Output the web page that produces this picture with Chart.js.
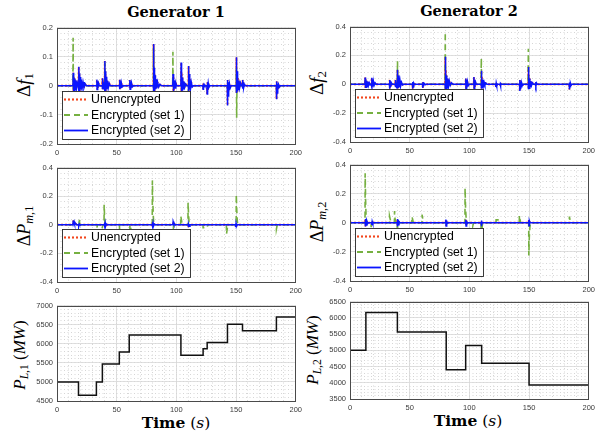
<!DOCTYPE html>
<html>
<head>
<meta charset="utf-8">
<script src="https://cdn.jsdelivr.net/npm/chart.js@4.4.1/dist/chart.umd.min.js"></script>
<style>
  html, body { margin: 0; padding: 0; background: #fff; }
  #fig { position: relative; width: 608px; height: 432px; overflow: hidden; background: #fff; }
  #fig canvas { position: absolute; }
  .lbl { position: absolute; white-space: nowrap; color: #000; line-height: 1;
         font-family: "Liberation Serif", "DejaVu Serif", serif; transform: translate(-50%, -50%); }
  .rot { transform: translate(-50%, -50%) rotate(-90deg); }
  .ttl { font-family: "DejaVu Serif", serif; font-weight: bold; font-size: 14.5px; }
  .xl  { font-family: "DejaVu Serif", serif; font-size: 15.5px; }
  .lbl sub { font-size: 68%; vertical-align: -0.25em; }
</style>
</head>
<body>
<div id="fig">
  <div class="lbl ttl" style="left:176px;top:12px">Generator 1</div>
  <div class="lbl ttl" style="left:469px;top:11px">Generator 2</div>

  <div class="lbl rot" style="left:25px;top:85px;font-size:19px">&Delta;<i>f</i><sub>1</sub></div>
  <div class="lbl rot" style="left:318px;top:83px;font-size:19px">&Delta;<i>f</i><sub>2</sub></div>
  <div class="lbl rot" style="left:25px;top:226px;font-size:18px">&Delta;<i>P</i><sub><i>m</i>,1</sub></div>
  <div class="lbl rot" style="left:318px;top:222px;font-size:18px">&Delta;<i>P</i><sub><i>m</i>,2</sub></div>
  <div class="lbl rot" style="left:21px;top:355px;font-size:17px"><i>P</i><sub><i>L</i>,1</sub> (<i>MW</i>)</div>
  <div class="lbl rot" style="left:314px;top:350px;font-size:17px"><i>P</i><sub><i>L</i>,2</sub> (<i>MW</i>)</div>

  <div class="lbl xl" style="left:176px;top:423px"><b>Time</b> (<i>s</i>)</div>
  <div class="lbl xl" style="left:468px;top:421px"><b>Time</b> (<i>s</i>)</div>
</div>
<script>
// ── axis ticks ────────────────────────────────────────────────────────────
const timeTicks   = [0, 50, 100, 150, 200];
const narrowTicks = [-0.2, -0.1, 0, 0.1, 0.2];
const wideTicks   = [-0.4, -0.2, 0, 0.2, 0.4];
const load1Ticks  = [4500, 5000, 5500, 6000, 6500, 7000];
const load2Ticks  = [3500, 4000, 4500, 5000, 5500, 6000, 6500];
const seriesNames = ['Unencrypted', 'Encrypted (set 1)', 'Encrypted (set 2)'];

// ── Δf1 : [time s, deviation] ─────────────────────────────────────────────
const f1Set2 = [
  [0, 0], [13.4, 0], [13.6, 0.045], [13.8, -0.02], [14.1, 0.032], [14.4, -0.018], [14.8, 0.026], [15.2, -0.013],
  [15.7, 0.019], [16.3, -0.009], [17, 0.011], [17.8, 0],
  [18.2, 0.065], [18.4, -0.022], [18.7, 0.042], [19, -0.02], [19.4, 0.03], [19.8, -0.013], [20.3, 0.021],
  [21, -0.01], [21.8, 0.013], [22.6, -0.006], [23.5, 0.007], [24.5, 0],
  [33.2, 0], [33.4, 0.021], [33.6, -0.013], [33.9, 0.015], [34.3, -0.008], [34.8, 0.009], [35.5, 0],
  [37.8, 0], [38, 0.026], [38.2, -0.012], [38.5, 0.018], [38.9, -0.01], [39.3, 0.012], [39.8, 0],
  [40, 0.085], [40.2, -0.021], [40.5, 0.05], [40.8, -0.018], [41.2, 0.031], [41.6, -0.012], [42.2, 0.018],
  [42.9, -0.008], [43.7, 0.009], [44.6, 0],
  [52.3, 0], [52.5, 0.021], [52.7, -0.012], [53, 0.015], [53.4, -0.008], [53.9, 0.01], [54.6, -0.004], [55.4, 0],
  [60.8, 0], [61, 0.02], [61.2, -0.012], [61.5, 0.015], [61.9, -0.008], [62.4, 0.01], [63.1, -0.004], [64, 0],
  [80.7, 0], [80.9, 0.143], [81.1, -0.021], [81.4, 0.062], [81.7, -0.018], [82.1, 0.036], [82.5, -0.013],
  [83, 0.022], [83.6, -0.009], [84.3, 0.012], [85.2, -0.004], [86.2, 0.005], [87.5, 0],
  [97, 0], [97.2, 0.04], [97.4, -0.02], [97.7, 0.028], [98, -0.015], [98.4, 0.018], [98.9, -0.008], [99.5, 0.01], [100.3, 0],
  [103.8, 0], [104, 0.08], [104.2, -0.02], [104.5, 0.045], [104.8, -0.015], [105.2, 0.028], [105.7, -0.01],
  [106.3, 0.015], [107, -0.005], [107.8, 0.006], [108.8, 0],
  [110, 0], [110.2, 0.068], [110.4, -0.02], [110.7, 0.04], [111, -0.014], [111.4, 0.024], [111.9, -0.008],
  [112.5, 0.012], [113.3, -0.004], [114.3, 0],
  [122.2, 0], [122.4, -0.012], [122.6, 0.008], [122.9, -0.008], [123.3, 0.004], [123.8, 0],
  [125.6, 0], [125.8, -0.028], [126, 0.012], [126.3, -0.014], [126.7, 0.008], [127.2, -0.006], [127.9, 0],
  [142.6, 0], [142.8, -0.068], [143, 0.02], [143.3, -0.035], [143.6, 0.012], [144, -0.018], [144.5, 0.006],
  [145.1, -0.008], [145.9, 0],
  [150.1, 0], [150.3, 0.098], [150.5, -0.025], [150.8, 0.05], [151.1, -0.02], [151.5, 0.03], [151.9, -0.012],
  [152.4, 0.018], [153, -0.007], [153.8, 0.01], [154.7, 0],
  [155.3, 0], [155.5, 0.02], [155.7, -0.01], [156, 0.012], [156.4, -0.006], [157, 0.005], [157.8, 0],
  [183.7, 0], [183.9, -0.046], [184.1, 0.015], [184.4, -0.025], [184.7, 0.008], [185.1, -0.012], [185.6, 0.004],
  [186.2, -0.005], [187, 0],
  [200, 0]
];
const f1Set1 = [
  [0, 0], [13.3, 0], [13.5, 0.165], [13.7, -0.015], [14, 0.03], [14.5, 0],
  [40, 0], [40.1, 0.08], [40.4, 0],
  [80.8, 0], [80.9, 0.13], [81.2, 0],
  [96.9, 0], [97.1, 0.117], [97.3, -0.01], [97.7, 0],
  [109.9, 0], [110.1, -0.076], [110.3, 0.01], [110.7, 0],
  [150.1, 0], [150.3, 0.06], [150.5, -0.11], [150.8, 0.01], [151.2, 0],
  [200, 0]
];
const f1Unenc = f1Set2;   // unencrypted trace sits under set 2 at this scale

// ── Δf2 ───────────────────────────────────────────────────────────────────
const f2Set2 = [
  [0, 0], [12.5, 0], [12.7, 0.047], [12.9, -0.025], [13.2, 0.035], [13.5, -0.02], [13.9, 0.025], [14.3, -0.015],
  [14.8, 0.018], [15.4, -0.01], [16.1, 0.01], [16.9, -0.005], [17.8, 0],
  [18.2, 0.045], [18.4, -0.02], [18.7, 0.03], [19.1, -0.015], [19.6, 0.02], [20.2, -0.008], [21, 0.01], [22, 0],
  [33, 0], [33.2, 0.03], [33.4, -0.03], [33.7, 0.02], [34.1, -0.018], [34.6, 0.01], [35.3, 0],
  [37.8, 0], [38, 0.03], [38.2, -0.02], [38.5, 0.02], [38.9, -0.012], [39.4, 0],
  [39.6, 0], [39.8, 0.1], [40, -0.03], [40.3, 0.06], [40.6, -0.025], [41, 0.04], [41.4, -0.018], [41.9, 0.025],
  [42.5, -0.01], [43.2, 0.013], [44, -0.005], [45, 0],
  [52.3, 0], [52.5, -0.03], [52.7, 0.015], [53, -0.018], [53.4, 0.008], [54, 0],
  [60.8, 0], [61, -0.025], [61.2, 0.015], [61.5, -0.015], [62, 0.006], [62.7, 0],
  [79.6, 0], [79.8, 0.19], [80, -0.04], [80.3, 0.1], [80.6, -0.035], [81, 0.06], [81.4, -0.025], [81.9, 0.04],
  [82.5, -0.015], [83.2, 0.022], [84, -0.008], [85, 0.01], [86.2, 0],
  [96.8, 0], [97, 0.04], [97.2, -0.035], [97.5, 0.03], [97.9, -0.02], [98.4, 0.018], [99, -0.01], [99.7, 0],
  [103.6, 0], [103.8, 0.05], [104, -0.03], [104.3, 0.03], [104.7, -0.018], [105.2, 0.015], [105.8, 0],
  [109.8, 0], [110, 0.093], [110.2, -0.03], [110.5, 0.05], [110.8, -0.022], [111.2, 0.03], [111.7, -0.012],
  [112.3, 0.016], [113, -0.006], [113.9, 0.007], [115, 0],
  [122, 0], [122.2, -0.018], [122.5, 0.008], [122.9, -0.008], [123.5, 0],
  [125.8, 0], [126, -0.012], [126.3, 0.006], [126.8, 0],
  [142, 0], [142.2, -0.047], [142.4, 0.03], [142.7, -0.03], [143, 0.018], [143.4, -0.018], [143.9, 0.008],
  [144.5, -0.008], [145.3, 0],
  [149.2, 0], [149.4, 0.12], [149.6, -0.035], [149.9, 0.065], [150.2, -0.028], [150.6, 0.04], [151, -0.016],
  [151.5, 0.022], [152.1, -0.008], [152.8, 0.01], [153.7, 0],
  [155.4, 0], [155.6, 0.015], [155.8, -0.012], [156.2, 0.008], [156.8, 0],
  [183.6, 0], [183.8, -0.036], [184, 0.012], [184.3, -0.018], [184.7, 0.006], [185.2, -0.007], [186, 0],
  [200, 0]
];
const f2Set1 = [
  [0, 0], [39.6, 0], [39.8, 0.16], [40, -0.02], [40.4, 0],
  [79.6, 0], [79.8, 0.36], [80, -0.03], [80.4, 0],
  [109.8, 0], [110, 0.178], [110.2, -0.02], [110.6, 0],
  [149.2, 0], [149.4, 0.246], [149.6, -0.03], [150, 0],
  [200, 0]
];
const f2Unenc = f2Set2;

// ── ΔPm1 ──────────────────────────────────────────────────────────────────
const pm1Set2 = [
  [0, 0], [13.4, 0], [13.6, 0.03], [13.9, 0.012], [14.3, 0.022], [14.8, 0.005], [15.5, 0.01], [16.5, 0],
  [18, 0], [18.2, -0.01], [18.6, 0.006], [19.2, 0],
  [39.7, 0], [39.9, 0.015], [40.1, -0.012], [40.4, 0.012], [40.8, -0.008], [41.3, 0.006], [42, 0],
  [79.8, 0], [80, 0.018], [80.2, -0.012], [80.5, 0.012], [80.9, -0.008], [81.5, 0.005], [82.2, 0],
  [97.1, 0], [97.3, 0.022], [97.6, 0.008], [98, 0.016], [98.5, 0.004], [99.2, 0],
  [109.9, 0], [110.1, -0.016], [110.4, 0.004], [110.8, -0.01], [111.4, 0],
  [149.5, 0], [149.7, -0.016], [150, 0.008], [150.4, -0.01], [151, 0],
  [200, 0]
];
const pm1Set1 = [
  [0, 0], [18.5, 0], [18.6, 0.045], [18.9, 0.02], [19.2, -0.02], [19.6, 0],
  [33.3, 0], [33.4, -0.02], [34, 0],
  [37.8, 0], [37.9, -0.025], [38.4, 0],
  [39.4, 0], [39.5, 0.14], [39.8, 0.07], [40.1, 0.02], [40.5, 0],
  [52.3, 0], [52.4, -0.033], [53.2, -0.033], [53.4, 0],
  [61, 0], [61.1, -0.03], [61.8, -0.03], [62, 0],
  [79.8, 0], [79.9, 0.31], [80.3, 0.15], [80.8, 0.04], [81.2, 0],
  [97.4, 0], [97.5, -0.02], [98, 0],
  [103.6, 0], [103.7, 0.06], [104.3, 0.03], [104.8, 0],
  [109.7, 0], [109.8, 0.155], [110.2, 0.07], [110.6, 0.02], [111, 0],
  [122.3, 0], [122.4, -0.02], [126, -0.02], [126.1, 0],
  [141.9, 0], [142, -0.063], [142.6, -0.03], [143, 0],
  [150.1, 0], [150.2, 0.21], [150.6, 0.1], [151, 0.03], [151.4, 0],
  [183.7, 0], [183.8, -0.03], [184.5, 0],
  [200, 0]
];
const pm1Unenc = pm1Set2;

// ── ΔPm2 ──────────────────────────────────────────────────────────────────
const pm2Set2 = [
  [0, 0], [12.6, 0], [12.8, 0.025], [13, -0.025], [13.3, 0.018], [13.7, -0.015], [14.2, 0.01], [14.8, -0.006], [15.6, 0],
  [18.1, 0], [18.3, -0.015], [18.6, 0.008], [19.1, -0.006], [19.8, 0],
  [39.4, 0], [39.6, 0.025], [39.8, -0.025], [40.1, 0.018], [40.5, -0.013], [41, 0.008], [41.7, 0],
  [80.1, 0], [80.3, 0.022], [80.5, -0.022], [80.8, 0.015], [81.2, -0.01], [81.8, 0],
  [96.8, 0], [97, 0.02], [97.2, -0.022], [97.5, 0.014], [97.9, -0.01], [98.5, 0],
  [109.8, 0], [110, -0.02], [110.2, 0.015], [110.5, -0.012], [111, 0],
  [149.6, 0], [149.8, 0.018], [150, -0.02], [150.3, 0.012], [150.8, 0],
  [200, 0]
];
const pm2Set1 = [
  [0, 0], [12.6, 0], [12.7, 0.34], [13.1, 0.15], [13.5, 0.03], [14, 0],
  [17.6, 0], [17.7, -0.03], [18.3, 0],
  [33, 0], [33.1, 0.046], [33.8, 0.02], [34.2, 0],
  [37.2, 0], [37.3, 0.08], [37.8, 0.03], [38.2, 0],
  [39.5, 0], [39.6, -0.044], [40.2, -0.02], [40.6, 0],
  [51.8, 0], [51.9, 0.042], [52.6, 0.02], [53, 0],
  [60.3, 0], [60.4, 0.055], [61, 0.025], [61.4, 0],
  [96.3, 0], [96.4, 0.237], [96.8, 0.1], [97.3, 0.03], [97.7, 0],
  [102.8, 0], [102.9, -0.02], [103.5, 0],
  [109.8, 0], [109.9, -0.16], [110.3, -0.07], [110.8, -0.02], [111.2, 0],
  [122.3, 0], [122.4, 0.02], [126, 0.02], [126.1, 0],
  [141.8, 0], [141.9, 0.05], [142.5, 0.02], [143, 0],
  [149.7, 0], [149.8, -0.225], [150.2, -0.1], [150.7, -0.03], [151.1, 0],
  [183.7, 0], [183.8, 0.042], [184.4, 0.015], [184.8, 0],
  [200, 0]
];
const pm2Unenc = pm2Set2;

// ── Load profiles (MW, held from each time onward) ────────────────────────
const load1Time  = [0, 18, 33, 38, 52.2, 60.5, 103.8, 122.4, 125.8, 142.8, 155.4, 183.8, 200];
const load1Value = [5000, 4650, 5000, 5470, 5780, 6230, 5700, 5870, 6030, 6510, 6340, 6700, 6700];
const load2Time  = [0, 13.3, 39.7, 80.6, 96.9, 110.3, 150, 200];
const load2Value = [5000, 6160, 5560, 4400, 5150, 4600, 3930, 3930];

// ── styles ────────────────────────────────────────────────────────────────
const STYLES = [
  { color: '#f2451c', width: 1.8, dash: [2, 2], order: 3, join: 'bevel' },   // unencrypted
  { color: '#76b041', width: 1.6, dash: [6, 4], order: 2, join: 'miter' },   // set 1
  { color: '#0a14ff', width: 1.5, dash: [],     order: 1, join: 'miter' },   // set 2
];
const TICK_FONT = { family: '"Liberation Sans", Arial, sans-serif', size: 7.5 };
const Y_AXIS_W = 30, X_AXIS_H = 16, PAD_TOP = 6, PAD_RIGHT = 10;

const panels = [
  { plot: [57, 25, 296, 144],  y: [-0.2, 0.2],  yTicks: narrowTicks, yStep: 0.02, lines: [f1Unenc, f1Set1, f1Set2] },
  { plot: [350, 24, 589, 142], y: [-0.4, 0.4],  yTicks: wideTicks,   yStep: 0.04, lines: [f2Unenc, f2Set1, f2Set2] },
  { plot: [57, 165, 296, 282], y: [-0.4, 0.4],  yTicks: wideTicks,   yStep: 0.04, lines: [pm1Unenc, pm1Set1, pm1Set2] },
  { plot: [350, 162, 589, 281], y: [-0.4, 0.4], yTicks: wideTicks,   yStep: 0.04, lines: [pm2Unenc, pm2Set1, pm2Set2] },
  { plot: [57, 303, 296, 401], y: [4500, 7000], yTicks: load1Ticks,  yStep: 100,  load: [load1Time, load1Value] },
  { plot: [350, 299, 589, 399], y: [3500, 6500], yTicks: load2Ticks, yStep: 100,  load: [load2Time, load2Value] },
];

// ── box round the axes + legend in the lower-left corner ─────────────────
const framePlugin = {
  id: 'frame',
  afterDraw(chart, args, opts) {
    const { ctx, chartArea: a } = chart;
    ctx.save();
    ctx.strokeStyle = '#4a4a4a';
    ctx.lineWidth = 1;
    ctx.strokeRect(Math.round(a.left) + 0.5, Math.round(a.top) + 0.5,
                   Math.round(a.right - a.left) - 1, Math.round(a.bottom - a.top) - 1);
    if (opts.legend) {
      const w = 128, h = 48;
      const x = Math.round(a.left) + 5, y = Math.round(a.bottom) - 5 - h;
      ctx.fillStyle = '#fff';
      ctx.fillRect(x, y, w, h);
      ctx.strokeStyle = '#262626';
      ctx.lineWidth = 0.9;
      ctx.strokeRect(x + 0.5, y + 0.5, w, h);
      chart.data.datasets.forEach((ds, i) => {
        const ly = y + 8.5 + i * 15.5;
        ctx.beginPath();
        ctx.setLineDash(ds.borderDash);
        ctx.strokeStyle = ds.borderColor;
        ctx.lineWidth = ds.borderWidth + 0.3;
        ctx.moveTo(x + 2, ly);
        ctx.lineTo(x + 26, ly);
        ctx.stroke();
        ctx.setLineDash([]);
        ctx.fillStyle = '#000';
        ctx.font = '12.3px "Liberation Sans", Arial, sans-serif';
        ctx.textBaseline = 'middle';
        ctx.fillText(ds.label, x + 29, ly + 0.5);
      });
    }
    ctx.restore();
  }
};

function fixedTicks(values) {
  return scale => { scale.ticks = values.map(v => ({ value: v })); };
}

function makePanel(p) {
  const [l, t, r, b] = p.plot;
  const canvas = document.createElement('canvas');
  canvas.width  = (r - l) + Y_AXIS_W + PAD_RIGHT;
  canvas.height = (b - t) + PAD_TOP + X_AXIS_H;
  canvas.style.left = (l - Y_AXIS_W) + 'px';
  canvas.style.top  = (t - PAD_TOP) + 'px';
  document.getElementById('fig').appendChild(canvas);

  let datasets;
  if (p.load) {
    const [times, values] = p.load;
    datasets = [{
      data: times.map((x, i) => ({ x, y: values[i] })),
      borderColor: '#111', borderWidth: 1.5, stepped: 'before', pointRadius: 0
    }];
  } else {
    datasets = p.lines.map((pts, i) => ({
      label: seriesNames[i],
      data: pts.map(([x, y]) => ({ x, y })),
      borderColor: STYLES[i].color,
      borderWidth: STYLES[i].width,
      borderDash: STYLES[i].dash,
      borderJoinStyle: STYLES[i].join,
      order: STYLES[i].order,
      pointRadius: 0, tension: 0
    }));
  }

  new Chart(canvas, {
    type: 'line',
    data: { datasets },
    options: {
      responsive: false, animation: false, events: [],
      layout: { padding: { left: 0, top: PAD_TOP, right: PAD_RIGHT, bottom: 0 } },
      plugins: { legend: { display: false }, tooltip: { enabled: false }, frame: { legend: !p.load } },
      scales: {
        x: {
          type: 'linear', position: 'bottom', min: 0, max: 200,
          afterBuildTicks: fixedTicks(timeTicks),
          afterFit: s => { s.height = X_AXIS_H; },
          grid: { color: '#e0e0e0', drawTicks: false },
          border: { display: false },
          ticks: { padding: 4, color: '#3a3a3a', font: TICK_FONT, maxRotation: 0, autoSkip: false,
                   callback: v => String(v) }
        },
        xMinor: {
          type: 'linear', position: 'bottom', min: 0, max: 200,
          afterFit: s => { s.height = 0; },
          grid: { color: '#d6d6d6', drawTicks: false },
          border: { display: false, dash: [1, 2.5] },
          ticks: { display: false, stepSize: 10 }
        },
        y: {
          type: 'linear', position: 'left', min: p.y[0], max: p.y[1],
          afterBuildTicks: fixedTicks(p.yTicks),
          afterFit: s => { s.width = Y_AXIS_W; },
          grid: { color: '#e0e0e0', drawTicks: false },
          border: { display: false },
          ticks: { padding: 4, color: '#3a3a3a', font: TICK_FONT, autoSkip: false,
                   callback: v => String(v) }
        },
        yMinor: {
          type: 'linear', position: 'left', min: p.y[0], max: p.y[1],
          afterFit: s => { s.width = 0; },
          grid: { color: '#d6d6d6', drawTicks: false },
          border: { display: false, dash: [1, 2.5] },
          ticks: { display: false, stepSize: p.yStep }
        }
      }
    },
    plugins: [framePlugin]
  });
}

panels.forEach(makePanel);
</script>
</body>
</html>
